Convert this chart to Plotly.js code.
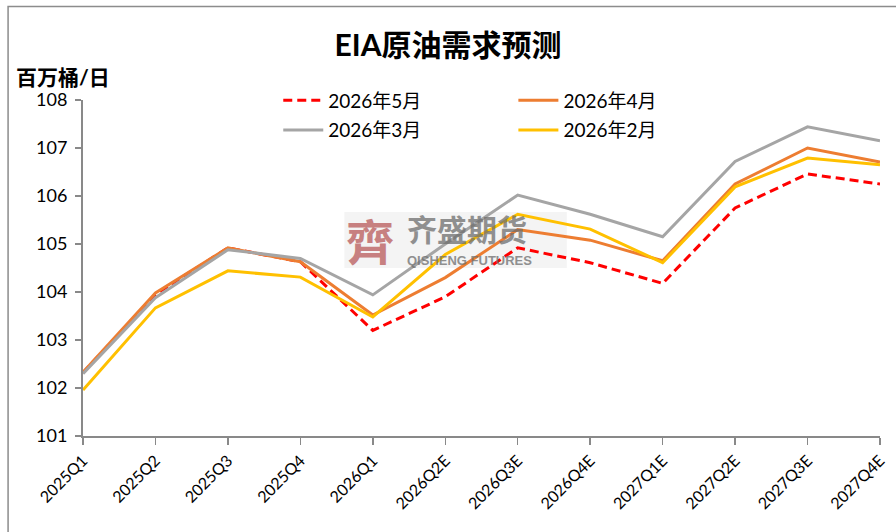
<!DOCTYPE html>
<html>
<head>
<meta charset="utf-8">
<script src="https://cdn.plot.ly/plotly-3.0.1.min.js"></script>
<style>
  html, body { margin: 0; padding: 0; background: #fff; }
  #chart { width: 896px; height: 532px; }
</style>
</head>
<body>
<div id="chart"></div>
<script>
const quarters = ['2025Q1', '2025Q2', '2025Q3', '2025Q4', '2026Q1', '2026Q2E',
    '2026Q3E', '2026Q4E', '2027Q1E', '2027Q2E', '2027Q3E', '2027Q4E'];

const may2026 = [102.32, 103.95, 104.92, 104.63, 103.20, 103.90, 104.92, 104.61, 104.18, 105.75, 106.46, 106.25];
const apr2026 = [102.33, 103.98, 104.92, 104.63, 103.52, 104.30, 105.30, 105.08, 104.65, 106.25, 107.00, 106.71];
const mar2026 = [102.30, 103.88, 104.88, 104.70, 103.94, 105.00, 106.02, 105.62, 105.15, 106.72, 107.44, 107.15];
const feb2026 = [101.96, 103.67, 104.44, 104.31, 103.48, 104.78, 105.62, 105.31, 104.61, 106.19, 106.79, 106.65];

const font = 'Lato, "Noto Sans CJK SC", sans-serif';

function series(name, values, color, dash, legend) {
    return {
        x: quarters,
        y: values,
        name: name,
        legendgroup: name,
        type: 'scatter',
        mode: 'lines',
        legend: legend,
        line: { color: color, width: 3, dash: dash }
    };
}

const traces = [
    series('2026年5月', may2026, '#FF0000', '9px,5px', 'legend'),
    series('2026年4月', apr2026, '#ED7D31', 'solid', 'legend2'),
    series('2026年3月', mar2026, '#A5A5A5', 'solid', 'legend'),
    series('2026年2月', feb2026, '#FFC000', 'solid', 'legend2')
];

const legendStyle = {
    orientation: 'v',
    xref: 'paper', yref: 'paper',
    xanchor: 'left', yanchor: 'top',
    bgcolor: 'rgba(0,0,0,0)',
    font: { family: font, size: 19, color: '#000' },
    tracegroupgap: 2,
    itemwidth: 40
};

const layout = {
    width: 896,
    height: 532,
    margin: { l: 83, r: 16, t: 100, b: 96, autoexpand: false },
    paper_bgcolor: '#fff',
    plot_bgcolor: '#fff',
    font: { family: font, color: '#000' },
    title: {
        text: '<b>EIA原油需求预测</b>',
        font: { family: font, size: 30, color: '#000' },
        x: 0.5, xref: 'container', y: 0.915, yref: 'container', yanchor: 'middle'
    },
    showlegend: true,
    legend: Object.assign({}, legendStyle, { x: 0.245, y: 1.055 }),
    legend2: Object.assign({}, legendStyle, { x: 0.54, y: 1.055 }),
    xaxis: {
        type: 'category',
        range: [0, 11],
        showgrid: false,
        zeroline: false,
        showline: true,
        linecolor: '#898989',
        linewidth: 2,
        ticks: 'outside',
        ticklen: 7,
        tickcolor: '#898989',
        tickwidth: 1.5,
        tickangle: -45,
        tickfont: { family: font, size: 16, color: '#000' }
    },
    yaxis: {
        range: [101, 108],
        dtick: 1,
        showgrid: false,
        zeroline: false,
        showline: true,
        linecolor: '#898989',
        linewidth: 2,
        ticks: 'outside',
        ticklen: 6,
        tickcolor: '#898989',
        tickwidth: 1.5,
        ticklabelstandoff: 4,
        tickfont: { family: font, size: 18, color: '#000' }
    },
    shapes: [
        // chart frame
        { type: 'rect', xref: 'paper', yref: 'paper', x0: -0.094, x1: 1.1, y0: -0.5, y1: 1.278,
          line: { color: '#8c8c8c', width: 1.5 }, fillcolor: 'rgba(0,0,0,0)', layer: 'below' },
        // watermark backdrop
        { type: 'rect', xref: 'paper', yref: 'paper', x0: 0.328, x1: 0.607, y0: 0.5, y1: 0.667,
          line: { width: 0 }, fillcolor: '#f4f4f4', layer: 'below' }
    ],
    annotations: [
        { text: '<b>百万桶/日</b>', xref: 'paper', yref: 'paper', x: -0.087, y: 1.07,
          xanchor: 'left', yanchor: 'middle', showarrow: false,
          font: { family: font, size: 21, color: '#000' } },
        { text: '<b>齊</b>', xref: 'paper', yref: 'paper', x: 0.36, y: 0.585,
          xanchor: 'center', yanchor: 'middle', showarrow: false, opacity: 0.75,
          font: { family: '"Noto Sans CJK SC", sans-serif', size: 48, color: '#b85a5a' } },
        { text: '<b>齐盛期货</b>', xref: 'paper', yref: 'paper', x: 0.404, y: 0.618,
          xanchor: 'left', yanchor: 'middle', showarrow: false, opacity: 0.75,
          font: { family: '"Noto Sans CJK SC", sans-serif', size: 30, color: '#6e6e6e' } },
        { text: '<b>QISHENG FUTURES</b>', xref: 'paper', yref: 'paper', x: 0.404, y: 0.522,
          xanchor: 'left', yanchor: 'middle', showarrow: false, opacity: 0.75,
          font: { family: 'Liberation Sans, sans-serif', size: 13, color: '#6e6e6e' } }
    ]
};

Plotly.newPlot('chart', traces, layout, { displayModeBar: false, staticPlot: true });
</script>
</body>
</html>
